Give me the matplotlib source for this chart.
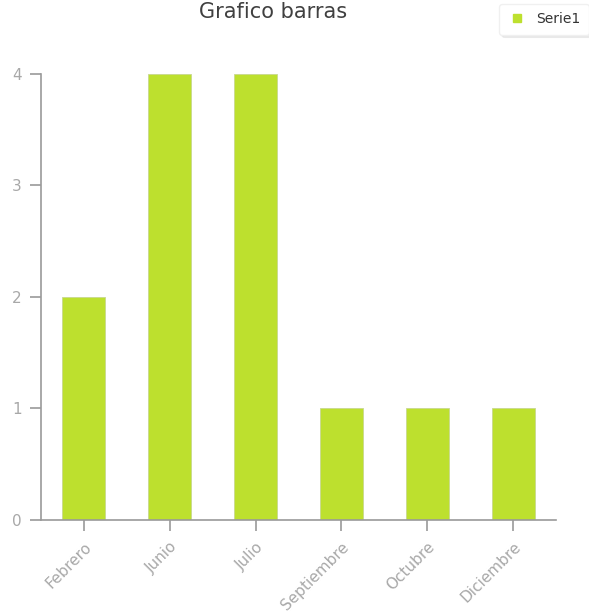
import matplotlib
matplotlib.use('Agg')
import matplotlib.pyplot as plt
from matplotlib.lines import Line2D

# Data
meses = ['Febrero', 'Junio', 'Julio', 'Septiembre', 'Octubre', 'Diciembre']
serie1 = [2, 4, 4, 1, 1, 1]
yticks = [0, 1, 2, 3, 4]

verde = '#bde02e'
gris = '#9a9a9a'

fig = plt.figure(figsize=(5.89, 6.15), dpi=100)
fig.patch.set_facecolor('white')
ax = fig.add_axes([0.0696, 0.1545, 0.8744, 0.7252])

x = list(range(len(meses)))
ax.bar(x, serie1, width=0.5, color=verde, edgecolor='#c8d890', linewidth=0.6, zorder=2)

ax.set_xlim(-0.5, len(meses) - 0.5)
ax.set_ylim(0, 4)
ax.set_yticks(yticks)
ax.set_xticks(x)
ax.set_xticklabels(meses, rotation=45, ha='right', rotation_mode='anchor')

for s in ['top', 'right']:
    ax.spines[s].set_visible(False)
for s in ['left', 'bottom']:
    ax.spines[s].set_color(gris)
    ax.spines[s].set_linewidth(1.2)

ax.tick_params(axis='both', colors=gris, labelcolor='#a8a8a8', labelsize=11,
               length=8, width=1.2)
ax.tick_params(axis='y', pad=6)
ax.tick_params(axis='x', pad=6)

fig.text(0.464, 0.98, 'Grafico barras', ha='center', va='center',
         fontsize=15, color='#404040')

handle = Line2D([], [], marker='s', color=verde, linestyle='none', markersize=6)
leg = fig.legend([handle], ['Serie1'], loc='upper right', bbox_to_anchor=(1.012, 1.005),
                 fontsize=10, frameon=True, fancybox=True,
                 shadow={'color': '#cccccc', 'alpha': 0.35, 'ox': 2, 'oy': -2},
                 handletextpad=0.7, borderpad=0.6, handlelength=1.4,
                 labelcolor='#333333')
leg.get_frame().set_edgecolor('#f0f0f0')
leg.get_frame().set_facecolor('white')

fig.savefig('out.png', dpi=100)
